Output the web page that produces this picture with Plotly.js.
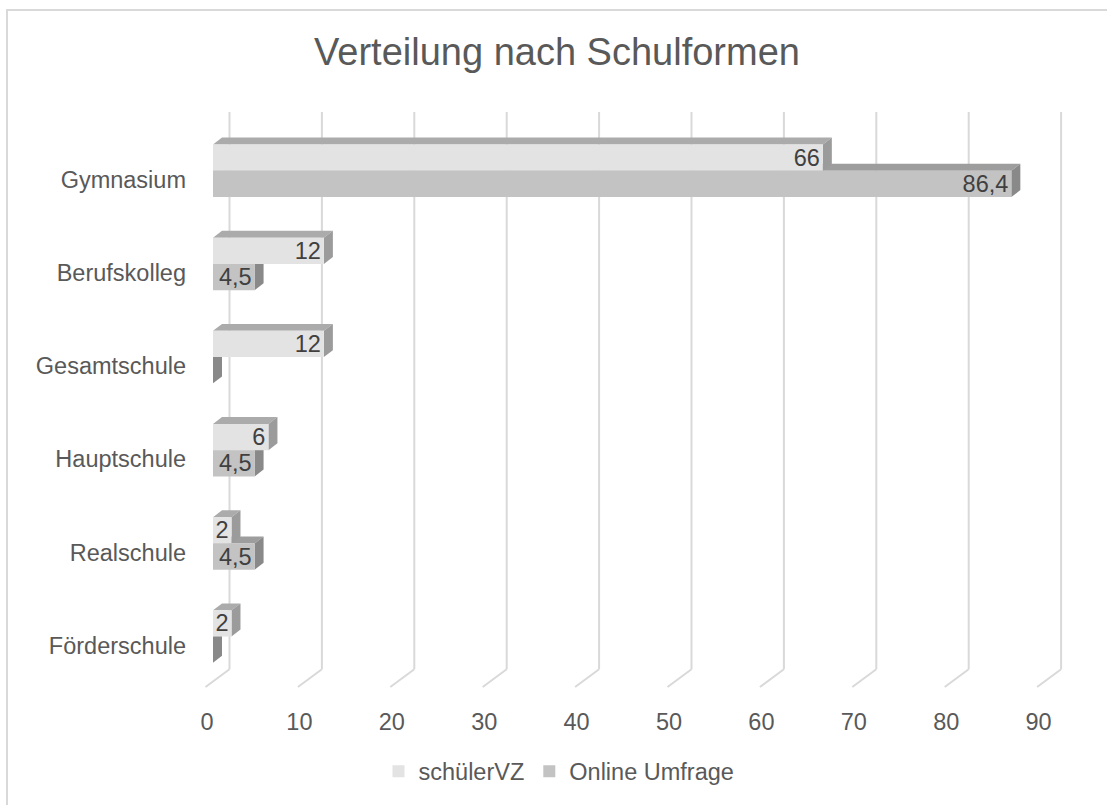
<!DOCTYPE html>
<html><head><meta charset="utf-8">
<script src="https://cdn.plot.ly/plotly-3.0.1.min.js"></script>
<style>
html,body{margin:0;padding:0;background:#fff;overflow:hidden}
#chart{width:1107px;height:805px;position:absolute;left:0;top:0}
#frame{position:absolute;left:6px;top:9px;width:1300px;height:1000px;border:2px solid #d9d9d9;pointer-events:none;box-sizing:border-box}
</style>
</head><body><div id="chart"></div><div id="frame"></div>
<script>
// ---- data ----
const categories = ['Förderschule', 'Realschule', 'Hauptschule', 'Gesamtschule', 'Berufskolleg', 'Gymnasium'];
const schuelerVZ = [2, 2, 6, 12, 12, 66];
const onlineUmfrage = [0, 4.5, 4.5, 0, 4.5, 86.4];
const seriesNames = ['schülerVZ', 'Online Umfrage'];
const xTicks = [0, 10, 20, 30, 40, 50, 60, 70, 80, 90];

// ---- geometry (pixel calibration of the pseudo-3D look) ----
const W = 1107, H = 805;
const ML = 195, MR = 32, MT = 100, MB = 108;
const PX_X = 9.24;          // px per unit on x
const PX_Y = 94.1;          // px per category step
const X0_PX = 213;          // px of value 0 in bar plane
const Y0_PX = 642;          // px of first category centre
const plotW = W - ML - MR, plotH = H - MT - MB;
const xRange = [(ML - X0_PX) / PX_X, (W - MR - X0_PX) / PX_X];
const yRange = [(Y0_PX - (H - MB)) / PX_Y, (Y0_PX - MT) / PX_Y];
const BAR_W = 26.5 / PX_Y;
const DX = 9 / PX_X, DY = 7 / PX_Y;          // bar depth
const BACK_DX = 16.5 / PX_X;                 // back wall offset
const FLOOR_DX = -7.5 / PX_X;                // front floor offset
const GRID_TOP = (Y0_PX - 112) / PX_Y;
const GRID_BOTTOM = (Y0_PX - 675) / PX_Y;
const FLOOR_Y = (Y0_PX - 693) / PX_Y;

const pos = categories.map((c, i) => i);
const fmt = v => v === 0 ? '' : String(v).replace('.', ',');

const colFront = ['#e3e3e3', '#c3c3c3'];
const colTop = ['#ababab', '#9d9d9d'];
const colSide = ['#9b9b9b', '#898989'];
const gridCol = '#d9d9d9';
const FONT = 'Liberation Sans, Arial, sans-serif';

const shapes = [];
xTicks.forEach(v => {
  shapes.push({type: 'line', xref: 'x', yref: 'y', layer: 'below',
    x0: v + BACK_DX, x1: v + BACK_DX, y0: GRID_BOTTOM, y1: GRID_TOP,
    line: {color: gridCol, width: 2}});
  shapes.push({type: 'line', xref: 'x', yref: 'y', layer: 'below',
    x0: v + BACK_DX, y0: GRID_BOTTOM, x1: v + FLOOR_DX, y1: FLOOR_Y,
    line: {color: gridCol, width: 2}});
});
function faces(values, offset, si) {
  values.forEach((v, i) => {
    const yb = pos[i] + offset, yt = yb + BAR_W;
    shapes.push({type: 'path', xref: 'x', yref: 'y', layer: 'below',
      path: `M0,${yt} L${v},${yt} L${v + DX},${yt + DY} L${DX},${yt + DY} Z`,
      fillcolor: colTop[si], line: {width: 0}});
    shapes.push({type: 'path', xref: 'x', yref: 'y', layer: 'below',
      path: `M${v},${yb} L${v},${yt} L${v + DX},${yt + DY} L${v + DX},${yb + DY} Z`,
      fillcolor: colSide[si], line: {width: 0}});
  });
}
faces(onlineUmfrage, -BAR_W, 1);
faces(schuelerVZ, 0, 0);

function barTrace(values, offset, si) {
  return {
    type: 'bar', orientation: 'h', name: seriesNames[si],
    x: values, y: pos, width: BAR_W, offset: offset,
    marker: {color: colFront[si], line: {width: 0}},
    text: values.map(fmt), textposition: 'inside', insidetextanchor: 'end',
    textangle: 0, constraintext: 'none',
    insidetextfont: {family: FONT, size: 23.5, color: '#404040'},
    hoverinfo: 'x+y'
  };
}

const data = [barTrace(schuelerVZ, 0, 0), barTrace(onlineUmfrage, -BAR_W, 1)];

const layout = {
  width: W, height: H,
  margin: {l: ML, r: MR, t: MT, b: MB, pad: 0},
  paper_bgcolor: 'rgba(0,0,0,0)', plot_bgcolor: 'rgba(0,0,0,0)',
  font: {family: FONT, color: '#595959', size: 23.5},
  barmode: 'overlay',
  title: {text: 'Verteilung nach Schulformen', font: {family: FONT, size: 38, color: '#595959'},
    xref: 'container', x: 557 / W, xanchor: 'center', yref: 'container', y: 1 - 52 / H, yanchor: 'middle'},
  xaxis: {range: xRange, tickvals: xTicks, showgrid: false, zeroline: false, showline: false,
    ticks: '', ticklabelshift: -6, ticklabelstandoff: 14, tickfont: {size: 23.5, color: '#595959'}, fixedrange: true},
  yaxis: {range: yRange, tickvals: pos, ticktext: categories, showgrid: false, zeroline: false, showline: false,
    ticks: '', ticklabelshift: 9, ticklabelstandoff: 8, tickfont: {size: 23.5, color: '#595959'}, fixedrange: true},
  shapes: shapes,
  showlegend: true,
  legend: {orientation: 'h', x: (559 - ML) / plotW, xanchor: 'center', y: ((H - MB) - 756) / plotH, yanchor: 'top',
    font: {size: 23.5, color: '#595959'}, itemwidth: 30, traceorder: 'normal'}
};

Plotly.newPlot('chart', data, layout, {displayModeBar: false, staticPlot: true});
</script>
</body></html>
